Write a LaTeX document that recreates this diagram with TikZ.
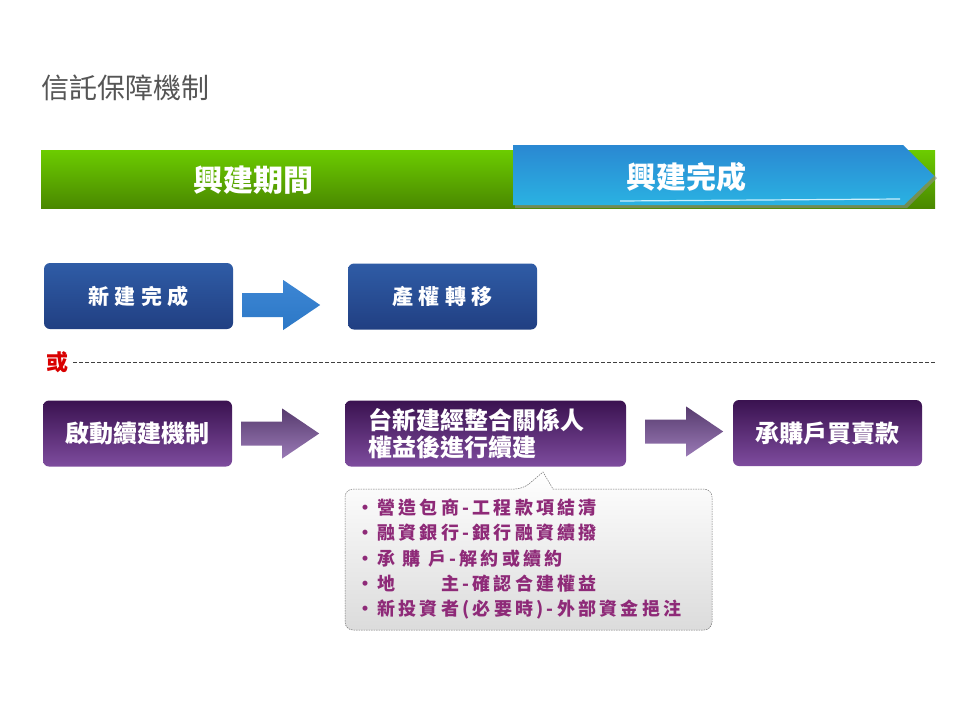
\documentclass[tikz,border=0pt]{standalone}
\usepackage{fontspec}
\newfontfamily\cjk{Noto Sans CJK TC}
\newfontfamily\cjkwide{Noto Sans CJK TC}[LetterSpace=25]
\newfontfamily\cjknote{Noto Sans CJK TC}[LetterSpace=18]
\usetikzlibrary{positioning,calc}

\definecolor{bargreentop}{HTML}{6CCC00}
\definecolor{bargreenbot}{HTML}{4A8800}
\definecolor{barbluetop}{HTML}{2A88D2}
\definecolor{barbluebot}{HTML}{2AB2E2}
\definecolor{boxbluetop}{HTML}{2F5CA6}
\definecolor{boxbluebot}{HTML}{213F82}
\definecolor{boxpurpletop}{HTML}{3A1250}
\definecolor{boxpurplebot}{HTML}{7E4C9E}
\definecolor{arrbluetop}{HTML}{3D86D4}
\definecolor{arrbluemid}{HTML}{8CC0EE}
\definecolor{arrbluebot}{HTML}{2C78C6}
\definecolor{arrpurpletop}{HTML}{573B6E}
\definecolor{arrpurplebot}{HTML}{9A7AB6}
\definecolor{notetext}{HTML}{8E2A78}
\definecolor{titlegray}{HTML}{555555}

\tikzset{
  flowbox/.style={rounded corners=6, minimum height=66, text=white,
    align=center, inner sep=0pt},
  bluebox/.style={flowbox, minimum width=189, top color=boxbluetop,
    bottom color=boxbluebot, font=\cjkwide\bfseries\fontsize{21}{24}\selectfont},
  purplebox/.style={flowbox, top color=boxpurpletop, bottom color=boxpurplebot,
    font=\cjk\bfseries\fontsize{24}{27}\selectfont},
  headtext/.style={text=white, font=\cjk\bfseries\fontsize{30}{32}\selectfont},
  noteline/.style={anchor=west, inner sep=0pt, text=notetext,
    font=\cjknote\bfseries\fontsize{18}{20}\selectfont},
  pics/fatarrow/.style args={#1/#2/#3}{code={
    \shade[top color=#1, middle color=#2, bottom color=#3]
      (0,-12) -- (41,-12) -- (41,-25) -- (78,0) -- (41,25) -- (41,12) -- (0,12) -- cycle;
  }}
}

\begin{document}
\begin{tikzpicture}[x=1pt,y=-1pt]
  \useasboundingbox[fill=white] (0,0) rectangle (960,720);
  % title
  \node[anchor=west, inner sep=0pt, text=titlegray,
    font=\cjk\fontsize{28}{30}\selectfont] (title) at (41,88) {信託保障機制};
  % header bar
  \shade[top color=bargreentop, bottom color=bargreenbot] (41,150) rectangle (935,208);
  \fill[black!45, opacity=0.6] (515,148) -- (905,148) -- (937,178) -- (907,208) -- (515,208) -- cycle;
  \shade[top color=barbluetop, bottom color=barbluebot]
    (513,145) -- (903,145) -- (934,176) -- (904,205) -- (513,205) -- cycle;
  \draw[white!80!cyan, line width=1.2] (620,201) -- (900,199);
  \node[headtext] (hd1) at (253,180) {興建期間};
  \node[headtext] (hd2) at (686,177) {興建完成};

  % first route
  \node[bluebox] (b1) at (138.5,296) {新建完成};
  \node[bluebox] (b2) at (442.5,296.5) {產權轉移};
  \pic at ($(b1.east)+(9,9)$) {fatarrow={arrbluetop/arrbluemid/arrbluebot}};

  % or
  \node[text=red!85!black, font=\cjk\bfseries\fontsize{22}{24}\selectfont,
    inner sep=0pt] (or) at (57,362) {或};
  \coordinate (lineend) at (936,362);
  \draw[black!75, line width=0.6, dash pattern=on 4pt off 2pt]
    ($(or.east)+(5,0)$) -- (lineend);

  % second route
  \node[purplebox, minimum width=189] (c1) at (137.5,433.5) {啟動續建機制};
  \node[purplebox, minimum width=281, text width=234, align=left,
    font=\cjk\bfseries\fontsize{24}{27}\selectfont] (c2) at (485.5,433.5)
    {台新建經整合關係人\\權益後進行續建};
  \node[purplebox, minimum width=189] (c3) at (827.5,433) {承購戶買賣款};
  \pic at ($(c1.east)+(9,0)$) {fatarrow={arrpurpletop/arrpurpletop!60!arrpurplebot/arrpurplebot}};
  \pic at ($(c2.east)+(19,-2)$) {fatarrow={arrpurpletop/arrpurpletop!60!arrpurplebot/arrpurplebot}};

  % callout
  \shade[top color=white, bottom color=black!14]
    (345,560) [rounded corners=8] -- (345,489) -- (523,489) [sharp corners]
    -- (543,472) -- (553,489) [rounded corners=8] -- (712,489) -- (712,630)
    -- (345,630) -- cycle;
  \draw[black!55, line width=0.5, dash pattern=on 1.5pt off 1pt]
    (345,560) [rounded corners=8] -- (345,489) -- (523,489) [sharp corners]
    -- (543,472) -- (553,489) [rounded corners=8] -- (712,489) -- (712,630)
    -- (345,630) -- cycle;
  \foreach \t [count=\i] in {營造包商-工程款項結清, 融資銀行-銀行融資續撥,
      承\ 購\ 戶-解約或續約, 地　　主-確認合建權益, 新投資者(必要時)-外部資金挹注} {
    \node[noteline] (n\i) at (356,482+25.5*\i) {・\t};
  }
\end{tikzpicture}
\end{document}
